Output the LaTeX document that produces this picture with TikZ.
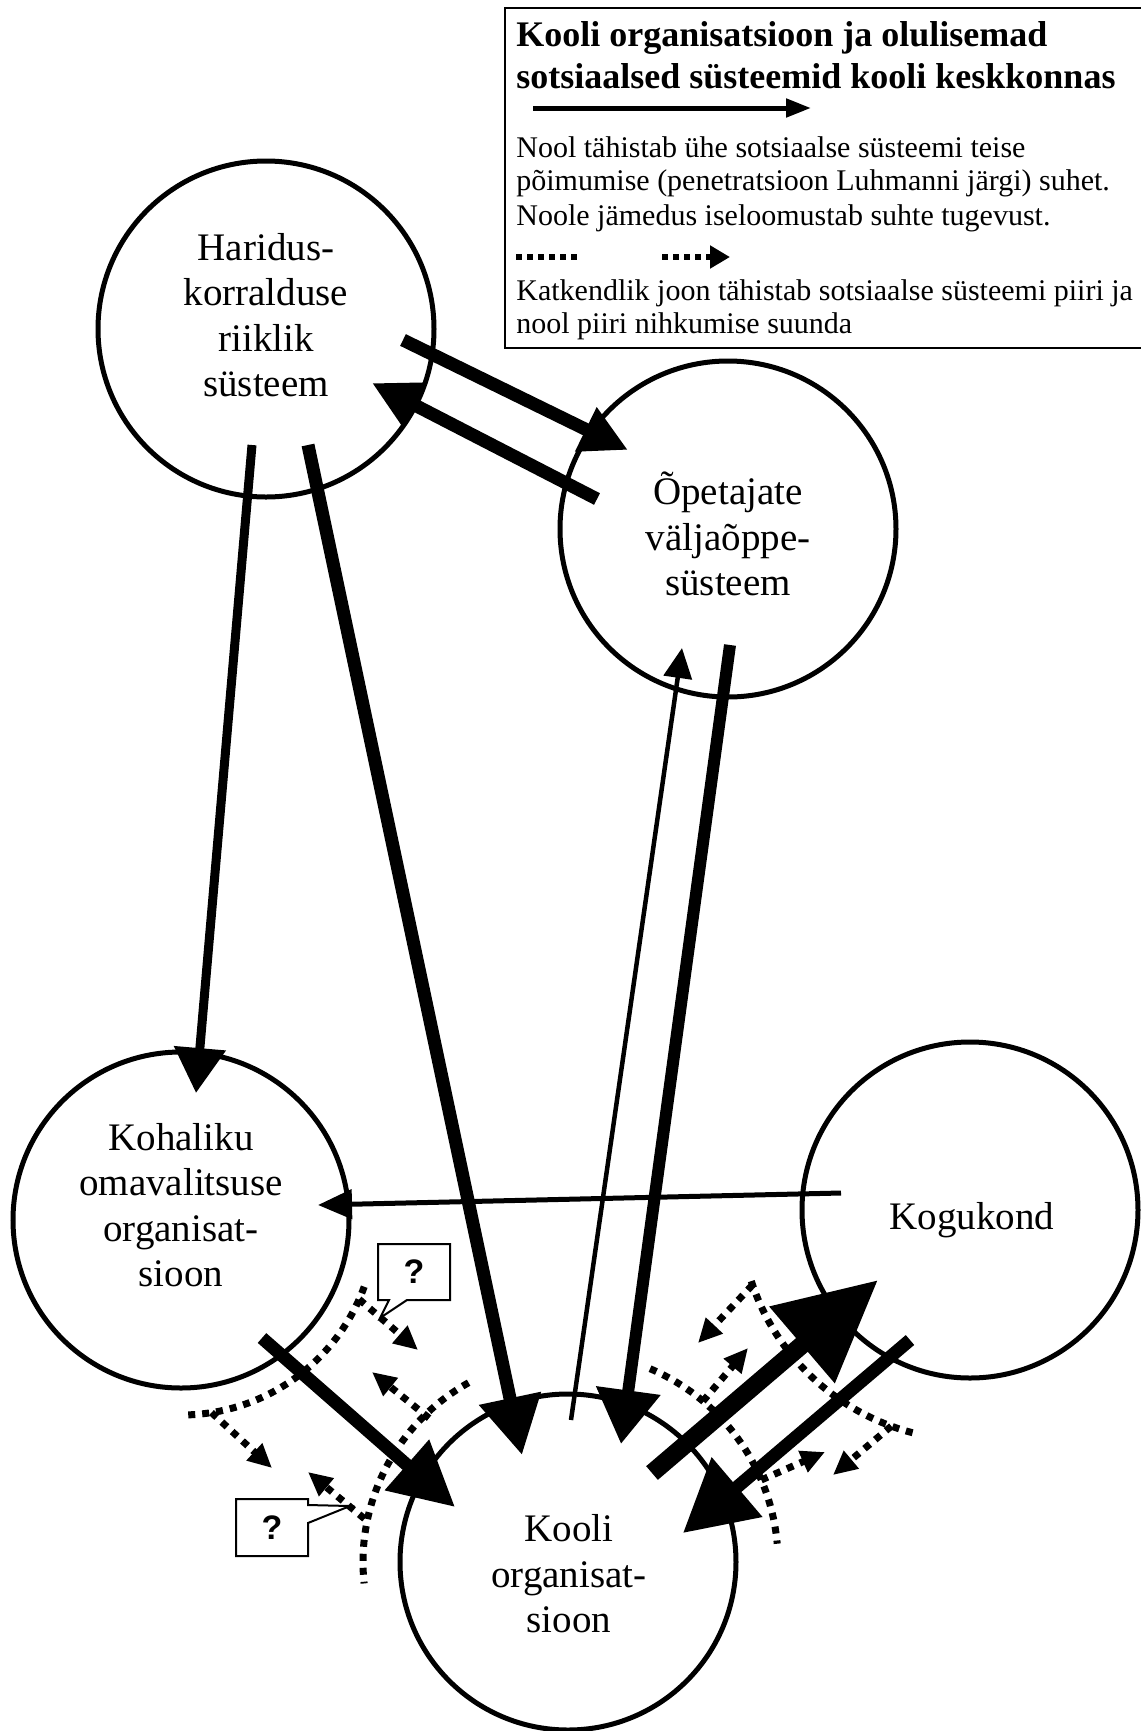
\documentclass[tikz,border=0pt]{standalone}
\usepackage{fontspec}
\setmainfont{Liberation Serif}
\newfontfamily\qfont{Liberation Sans}
\usetikzlibrary{arrows.meta,calc}
\begin{document}
\begin{tikzpicture}[x=0.5pt,y=-0.5pt,
  sys/.style={circle, draw, line width=2.5pt, minimum size=168pt, inner sep=0pt},
  systext/.style={align=center, font=\fontsize{19.5pt}{22.75pt}\selectfont, inner sep=0pt},
  conn/.style n args={3}{line width=#1, -{Triangle[length=#2, width=#3]}},
  bnd/.style={line width=3.5pt, dash pattern=on 3.5pt off 3.5pt},
  bndarrow/.style={bnd, -{Triangle[length=12pt, width=11pt]}},
  legtitle/.style={anchor=base west, inner sep=0pt, font=\fontsize{18pt}{20pt}\selectfont\bfseries},
  legtext/.style={anchor=base west, inner sep=0pt, font=\fontsize{15pt}{17pt}\selectfont},
  callout/.style={line width=1pt, fill=white},
  qmark/.style={inner sep=0pt, font=\qfont\bfseries\fontsize{17pt}{20pt}\selectfont}
]
\useasboundingbox (0,0) rectangle (1141,1731);

% ---- systems ----
\node[sys] (har) at (266,329) {};
\node[sys] (ope) at (728,529) {};
\node[sys] (koh) at (181,1220) {};
\node[sys] (kog) at (970,1210) {};
\node[sys] (kool) at (568,1562) {};

\node[systext] (harT) at (266,315) {Haridus-\\korralduse\\riiklik\\süsteem};
\node[systext] (opeT) at (728,534) {Õpetajate\\väljaõppe-\\süsteem};
\node[systext] (kohT) at (181,1205) {Kohaliku\\omavalitsuse\\organisat-\\sioon};
\node[systext] (kogT) at (972,1220) {Kogukond};
\node[systext] (koolT) at (569,1574) {Kooli\\organisat-\\sioon};

% ---- boundaries (dotted) ----
\draw[bnd] ($(koh)+(20:195)$) arc[start angle=20, end angle=88, radius=195];
\draw[bndarrow] ($(koh)+(24:195)$) -- ($(kool)+(-150,-212)$);
\draw[bndarrow] ($(koh)+(81:195)$) -- ($(kool)+(-296,-94)$);

\draw[bnd] ($(kool)+(241:205)$) arc[start angle=241, end angle=174, radius=205];
\draw[bndarrow] ($(kool)+(226:200)$) -- ($(koh)+(191,152)$);
\draw[bndarrow] ($(kool)+(192:208)$) -- ($(koh)+(127,252)$);

\draw[bnd] ($(kool)+(293:210)$) arc[start angle=293, end angle=355, radius=210];
\draw[bndarrow] ($(kool)+(310:210)$) -- ($(kog)+(-222,138)$);
\draw[bndarrow] ($(kool)+(337:210)$) -- ($(kog)+(-145,242)$);

\draw[bnd] ($(kog)+(162:230)$) arc[start angle=162, end angle=104, radius=230];
\draw[bndarrow] ($(kog)+(161:230)$) -- ($(kool)+(130,-219)$);
\draw[bndarrow] ($(kog)+(110:230)$) -- ($(kool)+(265,-87)$);

% ---- relations ----
\draw[conn={4.5pt}{22.5pt}{25pt}] ($(har)+(-14,116)$) -- ($(koh)+(15,-127)$);
\draw[conn={6.5pt}{29pt}{30pt}] ($(har)+(42,116)$) -- ($(kool)+(-46,-107)$);
\draw[conn={6.5pt}{23.5pt}{23pt}] ($(har)+(137,11)$) -- ($(ope)+(-100,-79)$);
\draw[conn={6.5pt}{23.5pt}{23pt}] ($(ope)+(-131,-30)$) -- ($(har)+(106,54)$);
\draw[conn={2.25pt}{15pt}{14pt}] ($(kool)+(3,-142)$) -- ($(ope)+(-46,119)$);
\draw[conn={6pt}{27pt}{31pt}] ($(ope)+(2,116)$) -- ($(kool)+(53,-118)$);
\draw[conn={2.5pt}{17pt}{14.5pt}] ($(kog)+(-129,-17)$) -- ($(koh)+(137,-15)$);
\draw[conn={6.5pt}{32pt}{32pt}] ($(koh)+(81,118)$) -- ($(kool)+(-113,-55)$);
\draw[conn={9pt}{50pt}{48pt}] ($(kool)+(84,-89)$) -- ($(kog)+(-92,70)$);
\draw[conn={6.5pt}{35.5pt}{37.5pt}] ($(kog)+(-60,130)$) -- ($(kool)+(115,-29)$);

% ---- callouts ----
\draw[callout] (378,1244) -- (450,1244) -- (450,1300) -- (407,1300) -- (380,1318) -- (389,1300) -- (378,1300) -- cycle;
\node[qmark] (q1) at (414,1272) {?};
\draw[callout] (236,1499) -- (308,1499) -- (308,1505) -- (350,1506) -- (308,1523) -- (308,1556) -- (236,1556) -- cycle;
\node[qmark] (q2) at (272,1528) {?};

% ---- legend ----
\draw[line width=1.25pt] (505,8) rectangle (1160,348);
\node[legtitle] (t1) at (516,46) {Kooli organisatsioon ja olulisemad};
\node[legtitle] (t2) at (516,88) {sotsiaalsed süsteemid kooli keskkonnas};
\coordinate (la1) at (533,108);
\coordinate (la2) at (811,108);
\draw[conn={2.5pt}{12.5pt}{9pt}] (la1) -- (la2);
\node[legtext] (l1) at (516,157) {Nool tähistab ühe sotsiaalse süsteemi teise};
\node[legtext] (l2) at (516,190) {põimumise (penetratsioon Luhmanni järgi) suhet.};
\node[legtext] (l3) at (516,225) {Noole jämedus iseloomustab suhte tugevust.};
\coordinate (ld1) at (516,257);
\coordinate (ld2) at (580,257);
\coordinate (ld3) at (662,257);
\coordinate (ld4) at (730,257);
\draw[line width=3pt, dash pattern=on 3pt off 2.5pt] (ld1) -- (ld2);
\draw[line width=3pt, dash pattern=on 3pt off 2.5pt, -{Triangle[length=10pt, width=11pt]}] (ld3) -- (ld4);
\node[legtext] (l4) at (516,300) {Katkendlik joon tähistab sotsiaalse süsteemi piiri ja};
\node[legtext] (l5) at (516,333) {nool piiri nihkumise suunda};
\end{tikzpicture}
\end{document}
